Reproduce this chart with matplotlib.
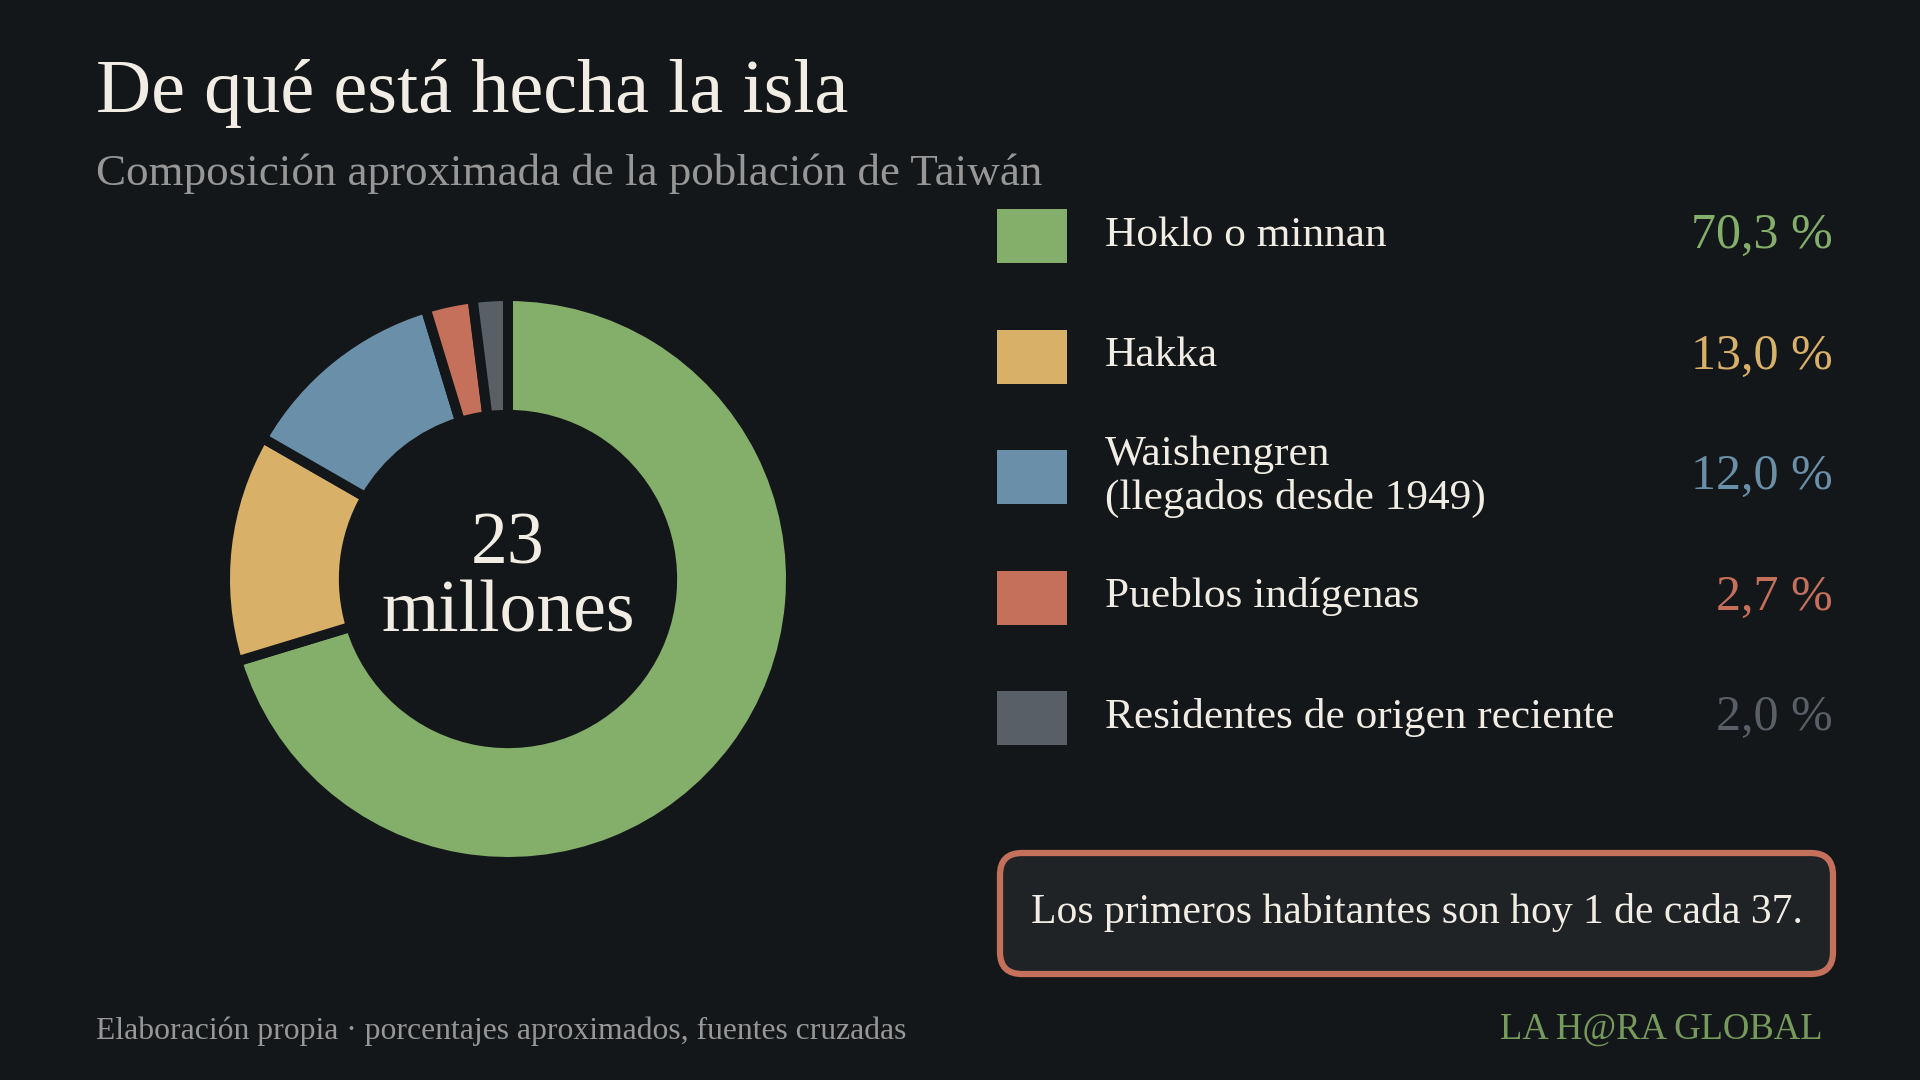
import matplotlib.pyplot as plt
from matplotlib.patches import Rectangle, FancyBboxPatch

# data
groups = ["Hoklo o minnan", "Hakka", "Waishengren\n(llegados desde 1949)",
          "Pueblos indígenas", "Residentes de origen reciente"]
shares = [70.3, 13.0, 12.0, 2.7, 2.0]
value_labels = ["70,3 %", "13,0 %", "12,0 %", "2,7 %", "2,0 %"]
colors = ["#84AF6A", "#D8B068", "#6A8FA8", "#C4705A", "#595F66"]

title = "De qué está hecha la isla"
subtitle = "Composición aproximada de la población de Taiwán"
center_label = ["23", "millones"]
note = "Los primeros habitantes son hoy 1 de cada 37."
source = "Elaboración propia · porcentajes aproximados, fuentes cruzadas"
brand = "LA H@RA GLOBAL"

BG = "#14171A"
CREAM = "#F2EDE4"
GREY = "#979797"

plt.rcParams["font.family"] = ["Liberation Serif", "DejaVu Serif"]

W, H = 1920, 1080
fig = plt.figure(figsize=(19.2, 10.8), dpi=100, facecolor=BG)

# overlay axes in pixel units (y down)
ov = fig.add_axes([0, 0, 1, 1])
ov.set_xlim(0, W)
ov.set_ylim(H, 0)
ov.axis("off")

# donut
cx, cy, R = 508, 579, 283
ax = fig.add_axes([(cx - R) / W, (H - cy - R) / H, 2 * R / W, 2 * R / H])
wedges, _ = ax.pie(shares, colors=colors, startangle=90, counterclock=False,
                   radius=1.0,
                   wedgeprops=dict(width=0.42, edgecolor=BG, linewidth=7.2))
for w in wedges:
    w.set_clip_on(False)
ax.set_xlim(-1, 1)
ax.set_ylim(-1, 1)
ax.axis("off")

ov.text(cx, 563, center_label[0], fontsize=53, color=CREAM, ha="center", va="baseline")
ov.text(cx, 632, center_label[1], fontsize=53, color=CREAM, ha="center", va="baseline")

# titles
ov.text(96, 112, title, fontsize=55, color=CREAM, ha="left", va="baseline")
ov.text(96, 185, subtitle, fontsize=32.4, color=GREY, ha="left", va="baseline")

# legend rows
row0, step = 236, 120.5
for i, (g, v, c) in enumerate(zip(groups, value_labels, colors)):
    yc = row0 + i * step
    ov.add_patch(Rectangle((997, yc - 27), 70, 54, facecolor=c, edgecolor="none"))
    lines = g.split("\n")
    n = len(lines)
    for j, ln in enumerate(lines):
        yb = yc + 10 + (j - (n - 1) / 2) * 43
        ov.text(1105, yb, ln, fontsize=31.2, color=CREAM, ha="left", va="baseline")
    ov.text(1833, yc + 12, v, fontsize=36, color=c, ha="right", va="baseline")

# note box
bx0, by0, bx1, by1, r = 1000, 853, 1833, 974, 22
ov.add_patch(FancyBboxPatch((bx0, by0), bx1 - bx0, by1 - by0,
                            boxstyle=f"round,pad=0,rounding_size={r}",
                            facecolor="#1F2326", edgecolor="#C4705A", linewidth=4.5))
ov.text((bx0 + bx1) / 2, 923, note, fontsize=30, color=CREAM, ha="center", va="baseline")

# footer
ov.text(96, 1039, source, fontsize=22.8, color=GREY, ha="left", va="baseline")
ov.text(1823, 1039, brand, fontsize=26.4, color="#769A5C", ha="right", va="baseline")

fig.savefig("out.png", dpi=100, facecolor=BG)
plt.close(fig)
